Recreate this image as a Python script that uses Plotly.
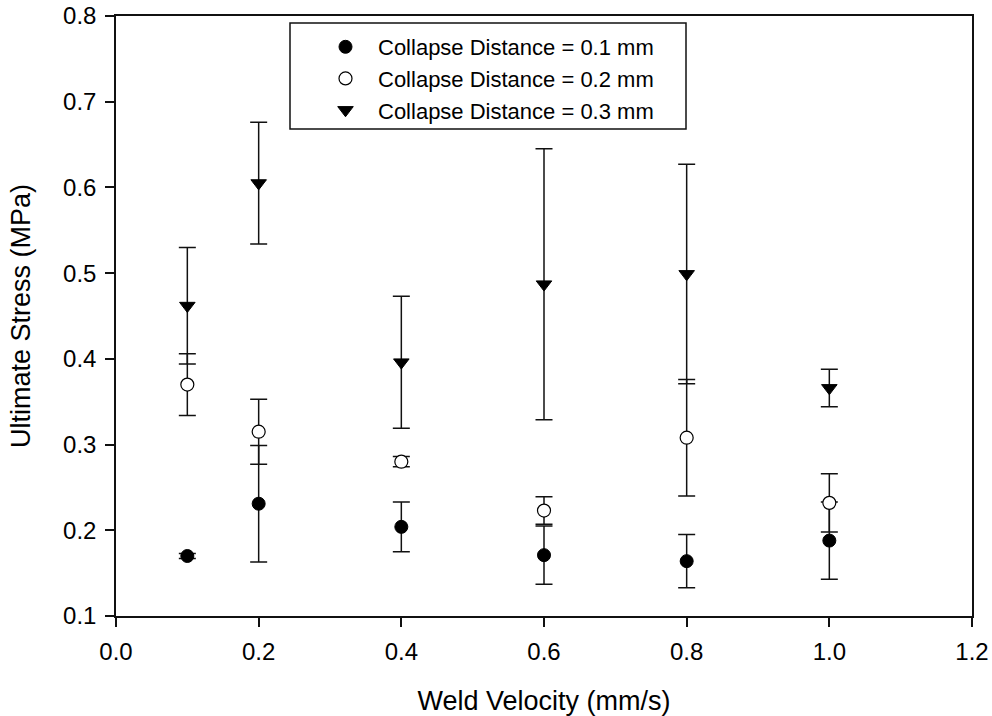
import plotly.graph_objects as go

# Weld velocity (mm/s)
weld_velocity = [0.1, 0.2, 0.4, 0.6, 0.8, 1.0]

# Ultimate stress (MPa), mean and standard deviation for each collapse distance
stress_cd01 = [0.170, 0.231, 0.204, 0.171, 0.164, 0.188]
err_cd01 = [0.003, 0.068, 0.029, 0.034, 0.031, 0.045]

stress_cd02 = [0.370, 0.315, 0.280, 0.223, 0.308, 0.232]
err_cd02 = [0.036, 0.038, 0.006, 0.016, 0.068, 0.034]

stress_cd03 = [0.462, 0.605, 0.396, 0.487, 0.499, 0.366]
err_cd03 = [0.068, 0.071, 0.077, 0.158, 0.128, 0.022]

series_names = [
    "Collapse Distance = 0.1 mm",
    "Collapse Distance = 0.2 mm",
    "Collapse Distance = 0.3 mm",
]

FONT = "Liberation Sans, Arial, sans-serif"
INK = "#111111"

# plot area in pixels
W, H = 992, 716
L, R, T, B = 116, 20, 16, 100
pw, ph = W - L - R, H - T - B


def px_x(p):
    return (p - L) / pw


def px_y(p):
    return (H - B - p) / ph


def errbar(vals):
    return dict(type="data", array=vals, visible=True, color=INK,
                thickness=1.5, width=8.5)


fig = go.Figure()
fig.add_trace(go.Scatter(
    x=weld_velocity, y=stress_cd01, mode="markers", name=series_names[0],
    marker=dict(symbol="circle", size=13, color="black",
                line=dict(color="black", width=1)),
    error_y=errbar(err_cd01),
))
fig.add_trace(go.Scatter(
    x=weld_velocity, y=stress_cd02, mode="markers", name=series_names[1],
    marker=dict(symbol="circle", size=13, color="white",
                line=dict(color="black", width=1.2)),
    error_y=errbar(err_cd02),
))
fig.add_trace(go.Scatter(
    x=weld_velocity, y=stress_cd03, mode="markers", name=series_names[2],
    marker=dict(symbol="triangle-down", size=13.5, color="black",
                line=dict(color="black", width=1)),
    error_y=errbar(err_cd03),
))

axis_common = dict(
    showgrid=False, zeroline=False, automargin=False,
    showline=True, linecolor=INK, linewidth=1.5, mirror=True,
    ticks="outside", ticklen=9, tickwidth=1.5, tickcolor=INK,
    tickfont=dict(family=FONT, size=24, color="black"),
    tickformat=".1f",
)

fig.update_xaxes(
    range=[0, 1.2], dtick=0.2, tick0=0, ticklabelstandoff=4,
    title=dict(text="Weld Velocity (mm/s)", standoff=29,
               font=dict(family=FONT, size=27, color="black")),
    **axis_common,
)
fig.update_yaxes(
    range=[0.1, 0.8], dtick=0.1, tick0=0.1, ticklabelstandoff=4,
    title=dict(text="Ultimate Stress (MPa)", standoff=25,
               font=dict(family=FONT, size=27, color="black")),
    **axis_common,
)

# framed legend box
fig.add_shape(
    type="rect", xref="paper", yref="paper",
    x0=px_x(290), x1=px_x(686), y0=px_y(129), y1=px_y(23),
    line=dict(color=INK, width=1.5), fillcolor="white", layer="above",
)

fig.update_layout(
    width=W, height=H, autosize=False,
    margin=dict(l=L, r=R, t=T, b=B, pad=0),
    paper_bgcolor="white", plot_bgcolor="white",
    font=dict(family=FONT, color="black"),
    showlegend=True,
    legend=dict(
        x=px_x(313), y=px_y(26), xanchor="left", yanchor="top",
        bgcolor="rgba(0,0,0,0)", borderwidth=0,
        font=dict(family=FONT, size=22, color="black"),
        itemwidth=55, tracegroupgap=0,
    ),
)

fig.write_html("out.html")
